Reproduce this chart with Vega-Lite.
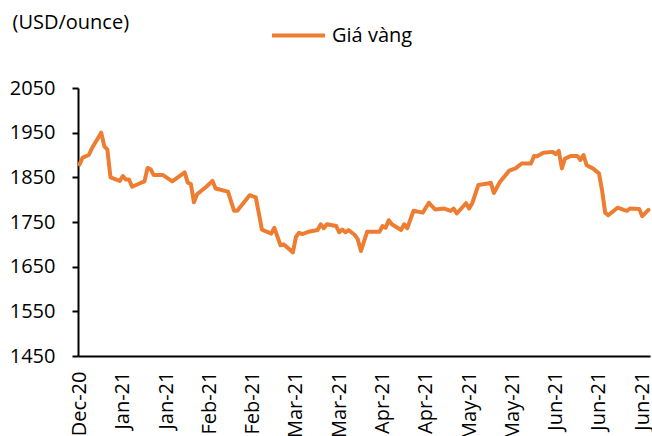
{
  "$schema": "https://vega.github.io/schema/vega-lite/v6.json",
  "width": 572,
  "height": 268,
  "autosize": {"type": "none"},
  "padding": {"left": 78, "top": 88, "right": 2, "bottom": 80},
  "background": "white",
  "config": {
    "view": {"stroke": null},
    "font": "Open Sans",
    "axis": {"labelFont": "Open Sans", "titleFont": "Open Sans", "labelColor": "#000", "titleColor": "#000", "domainColor": "#000", "tickColor": "#000", "grid": false},
    "legend": {"labelFont": "Open Sans", "labelColor": "#000"}
  },
  "data": {
    "values": [
      {"date": "2020-12-30", "price": 1879},
      {"date": "2020-12-31", "price": 1894},
      {"date": "2021-01-02", "price": 1900},
      {"date": "2021-01-03", "price": 1915},
      {"date": "2021-01-06", "price": 1950},
      {"date": "2021-01-07", "price": 1920},
      {"date": "2021-01-08", "price": 1912},
      {"date": "2021-01-09", "price": 1850},
      {"date": "2021-01-12", "price": 1842},
      {"date": "2021-01-13", "price": 1853},
      {"date": "2021-01-14", "price": 1845},
      {"date": "2021-01-15", "price": 1845},
      {"date": "2021-01-16", "price": 1829},
      {"date": "2021-01-18", "price": 1835},
      {"date": "2021-01-20", "price": 1841},
      {"date": "2021-01-21", "price": 1871},
      {"date": "2021-01-22", "price": 1868},
      {"date": "2021-01-23", "price": 1855},
      {"date": "2021-01-26", "price": 1855},
      {"date": "2021-01-29", "price": 1841},
      {"date": "2021-02-02", "price": 1861},
      {"date": "2021-02-03", "price": 1838},
      {"date": "2021-02-04", "price": 1835},
      {"date": "2021-02-05", "price": 1794},
      {"date": "2021-02-06", "price": 1812},
      {"date": "2021-02-09", "price": 1829},
      {"date": "2021-02-11", "price": 1842},
      {"date": "2021-02-12", "price": 1825},
      {"date": "2021-02-16", "price": 1818},
      {"date": "2021-02-18", "price": 1775},
      {"date": "2021-02-19", "price": 1775},
      {"date": "2021-02-23", "price": 1810},
      {"date": "2021-02-25", "price": 1805},
      {"date": "2021-02-27", "price": 1733},
      {"date": "2021-03-02", "price": 1724},
      {"date": "2021-03-03", "price": 1737},
      {"date": "2021-03-05", "price": 1698},
      {"date": "2021-03-06", "price": 1700},
      {"date": "2021-03-09", "price": 1682},
      {"date": "2021-03-10", "price": 1717},
      {"date": "2021-03-11", "price": 1726},
      {"date": "2021-03-12", "price": 1723},
      {"date": "2021-03-14", "price": 1728},
      {"date": "2021-03-17", "price": 1732},
      {"date": "2021-03-18", "price": 1745},
      {"date": "2021-03-19", "price": 1736},
      {"date": "2021-03-20", "price": 1745},
      {"date": "2021-03-23", "price": 1741},
      {"date": "2021-03-24", "price": 1727},
      {"date": "2021-03-25", "price": 1733},
      {"date": "2021-03-26", "price": 1727},
      {"date": "2021-03-27", "price": 1732},
      {"date": "2021-03-29", "price": 1721},
      {"date": "2021-03-30", "price": 1711},
      {"date": "2021-03-31", "price": 1685},
      {"date": "2021-04-02", "price": 1728},
      {"date": "2021-04-06", "price": 1728},
      {"date": "2021-04-07", "price": 1741},
      {"date": "2021-04-08", "price": 1737},
      {"date": "2021-04-09", "price": 1754},
      {"date": "2021-04-10", "price": 1745},
      {"date": "2021-04-13", "price": 1732},
      {"date": "2021-04-14", "price": 1745},
      {"date": "2021-04-15", "price": 1736},
      {"date": "2021-04-17", "price": 1775},
      {"date": "2021-04-20", "price": 1771},
      {"date": "2021-04-22", "price": 1793},
      {"date": "2021-04-24", "price": 1778},
      {"date": "2021-04-27", "price": 1780},
      {"date": "2021-04-29", "price": 1775},
      {"date": "2021-04-30", "price": 1780},
      {"date": "2021-05-01", "price": 1769},
      {"date": "2021-05-04", "price": 1792},
      {"date": "2021-05-05", "price": 1780},
      {"date": "2021-05-06", "price": 1792},
      {"date": "2021-05-08", "price": 1833},
      {"date": "2021-05-11", "price": 1836},
      {"date": "2021-05-12", "price": 1838},
      {"date": "2021-05-13", "price": 1815},
      {"date": "2021-05-15", "price": 1840},
      {"date": "2021-05-18", "price": 1865},
      {"date": "2021-05-20", "price": 1870},
      {"date": "2021-05-22", "price": 1881},
      {"date": "2021-05-25", "price": 1881},
      {"date": "2021-05-26", "price": 1898},
      {"date": "2021-05-27", "price": 1897},
      {"date": "2021-05-29", "price": 1905},
      {"date": "2021-06-01", "price": 1907},
      {"date": "2021-06-02", "price": 1902},
      {"date": "2021-06-03", "price": 1909},
      {"date": "2021-06-04", "price": 1870},
      {"date": "2021-06-05", "price": 1892},
      {"date": "2021-06-07", "price": 1898},
      {"date": "2021-06-09", "price": 1898},
      {"date": "2021-06-10", "price": 1889},
      {"date": "2021-06-11", "price": 1900},
      {"date": "2021-06-12", "price": 1877},
      {"date": "2021-06-14", "price": 1870},
      {"date": "2021-06-16", "price": 1859},
      {"date": "2021-06-17", "price": 1821},
      {"date": "2021-06-18", "price": 1771},
      {"date": "2021-06-19", "price": 1765},
      {"date": "2021-06-22", "price": 1782},
      {"date": "2021-06-24", "price": 1777},
      {"date": "2021-06-25", "price": 1775},
      {"date": "2021-06-26", "price": 1780},
      {"date": "2021-06-29", "price": 1779},
      {"date": "2021-06-30", "price": 1763},
      {"date": "2021-07-02", "price": 1777}
    ]
  },
  "mark": {"type": "line", "strokeWidth": 4, "strokeJoin": "round", "strokeCap": "round", "clip": false},
  "encoding": {
    "x": {
      "field": "date",
      "type": "temporal",
      "scale": {
        "type": "utc",
        "domain": [
          {"year": 2020, "month": 12, "date": 29, "hours": 12, "utc": true},
          {"year": 2021, "month": 7, "date": 2, "hours": 12, "utc": true}
        ],
        "nice": false
      },
      "axis": {
        "title": null,
        "format": "%b-%y",
        "labelAngle": -90,
        "labelFontSize": 20,
        "labelPadding": 15,
        "ticks": false,
        "domainWidth": 2,
        "labelOverlap": false,
        "labelFlush": false,
        "values": [
          {"year": 2020, "month": 12, "date": 30, "utc": true},
          {"year": 2021, "month": 1, "date": 13, "utc": true},
          {"year": 2021, "month": 1, "date": 27, "utc": true},
          {"year": 2021, "month": 2, "date": 10, "utc": true},
          {"year": 2021, "month": 2, "date": 24, "utc": true},
          {"year": 2021, "month": 3, "date": 10, "utc": true},
          {"year": 2021, "month": 3, "date": 24, "utc": true},
          {"year": 2021, "month": 4, "date": 7, "utc": true},
          {"year": 2021, "month": 4, "date": 21, "utc": true},
          {"year": 2021, "month": 5, "date": 5, "utc": true},
          {"year": 2021, "month": 5, "date": 19, "utc": true},
          {"year": 2021, "month": 6, "date": 2, "utc": true},
          {"year": 2021, "month": 6, "date": 16, "utc": true},
          {"year": 2021, "month": 6, "date": 30, "utc": true}
        ]
      }
    },
    "y": {
      "field": "price",
      "type": "quantitative",
      "scale": {"domain": [1450, 2050], "nice": false, "zero": false},
      "axis": {
        "values": [1450, 1550, 1650, 1750, 1850, 1950, 2050],
        "format": "d",
        "labelFontSize": 20,
        "labelPadding": 17,
        "tickSize": 6,
        "tickWidth": 2,
        "domainWidth": 2,
        "labelFlush": false,
        "title": "(USD/ounce)",
        "titleAngle": 0,
        "titleFontSize": 20,
        "titleFontWeight": "normal",
        "titleAlign": "left",
        "titleBaseline": "middle",
        "titleX": -66,
        "titleY": -66
      }
    },
    "color": {
      "datum": "Giá vàng",
      "type": "nominal",
      "scale": {"range": ["#ED7D31"]},
      "legend": {
        "title": null,
        "orient": "none",
        "legendX": 192,
        "legendY": -81,
        "symbolType": "stroke",
        "symbolSize": 2809,
        "symbolStrokeWidth": 4,
        "labelFontSize": 20,
        "labelOffset": 5,
        "padding": 0
      }
    }
  }
}
